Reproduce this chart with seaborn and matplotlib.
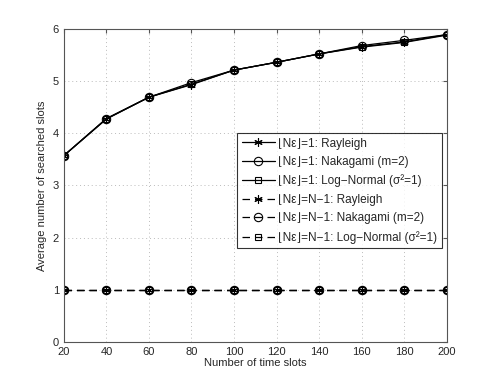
import numpy as np
import pandas as pd
import seaborn as sns
import matplotlib
matplotlib.use('Agg')
import matplotlib.pyplot as plt

sns.set_style('white')
plt.rcParams['font.family'] = ['Liberation Sans', 'DejaVu Sans']

slots = [20, 40, 60, 80, 100, 120, 140, 160, 180, 200]
rayleigh_1 = [3.57, 4.27, 4.69, 4.93, 5.21, 5.36, 5.52, 5.65, 5.74, 5.88]
nakagami_1 = [3.57, 4.28, 4.69, 4.97, 5.21, 5.36, 5.52, 5.68, 5.78, 5.89]
lognormal_1 = [3.57, 4.28, 4.69, 4.94, 5.21, 5.36, 5.52, 5.66, 5.75, 5.89]
rayleigh_n = [1, 1, 1, 1, 1, 1, 1, 1, 1, 1]
nakagami_n = [1, 1, 1, 1, 1, 1, 1, 1, 1, 1]
lognormal_n = [1, 1, 1, 1, 1, 1, 1, 1, 1, 1]

labels = ['⌊Nε⌋=1: Rayleigh',
          '⌊Nε⌋=1: Nakagami (m=2)',
          '⌊Nε⌋=1: Log−Normal (σ²=1)',
          '⌊Nε⌋=N−1: Rayleigh',
          '⌊Nε⌋=N−1: Nakagami (m=2)',
          '⌊Nε⌋=N−1: Log−Normal (σ²=1)']
series = [rayleigh_1, nakagami_1, lognormal_1, rayleigh_n, nakagami_n, lognormal_n]
markers = [(6, 2, 0), 'o', 's', (6, 2, 0), 'o', 's']
dashed = [False, False, False, True, True, True]
msizes = [6, 6, 5, 6, 6, 5]

fig = plt.figure(figsize=(4.91, 3.85), dpi=100)
ax = fig.add_axes([0.130, 0.112, 0.780, 0.813])

for y, lab, m, d, ms in zip(series, labels, markers, dashed, msizes):
    df = pd.DataFrame({'x': slots, 'y': y})
    sns.lineplot(data=df, x='x', y='y', ax=ax, color='black', lw=0.9,
                 dashes=(6, 4) if d else (None, None), marker=m, markersize=ms,
                 markerfacecolor='none', markeredgecolor='black',
                 markeredgewidth=0.8, label=lab)

ax.set_xlim(20, 200)
ax.set_ylim(0, 6)
ax.set_xticks(slots)
ax.set_yticks(range(0, 7))
ax.grid(True, linestyle=(0, (1, 3)), color='#bbbbbb', lw=0.7)
ax.tick_params(direction='in', labelsize=8, length=3, top=True, right=True,
               color='#555555')
for s in ax.spines.values():
    s.set_color('#555555')
    s.set_linewidth(0.8)
ax.set_xlabel('Number of time slots', fontsize=8, labelpad=1)
ax.set_ylabel('Average number of searched slots', fontsize=8, labelpad=4)

leg = ax.legend(loc='upper right', bbox_to_anchor=(0.988, 0.668), fontsize=8.5,
                frameon=True, fancybox=False, edgecolor='black',
                handlelength=2.8, handletextpad=0.3, labelspacing=0.55,
                borderpad=0.4, borderaxespad=0.0)
leg.get_frame().set_linewidth(0.8)

fig.savefig('out.png', dpi=100)
